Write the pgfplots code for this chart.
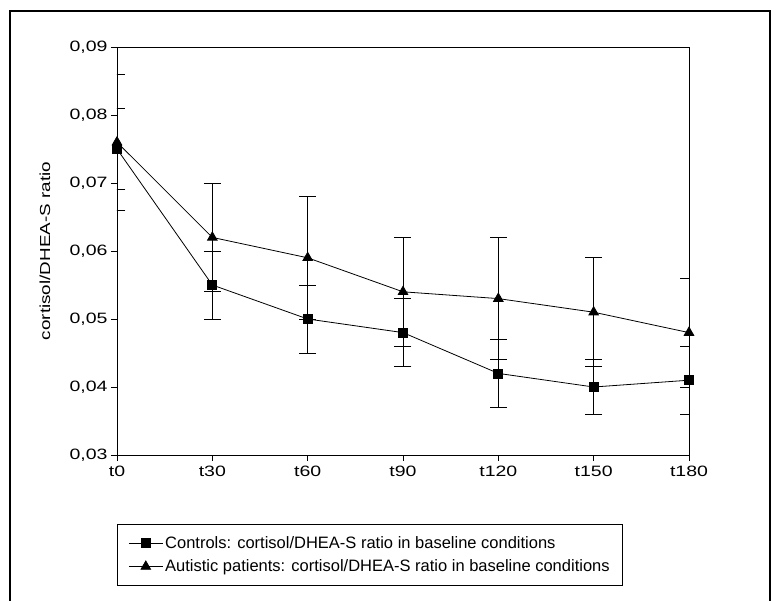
\documentclass[border=0pt]{standalone}
\usepackage{pgfplots}
\pgfplotsset{compat=1.18}
\usepackage{fontspec}
\setmainfont{Liberation Sans}
\newfontfamily\widefont[FakeStretch=1.3]{Liberation Sans}

\begin{document}
\begin{tikzpicture}
  % page = 781 x 601 px, axis box south west corner at (0,0)
  \useasboundingbox (-117bp,-146bp) rectangle (664bp,455bp);
  \draw[line width=1.4bp] (-107bp,-150bp) -- (-107bp,444bp) -- (653bp,444bp) -- (653bp,-150bp);
  \begin{axis}[
    scale only axis,
    width=572bp, height=408bp,
    at={(0,0)}, anchor=south west,
    xmin=0, xmax=6, ymin=0.03, ymax=0.09,
    xtick={0,...,6},
    xticklabels={t0,t30,t60,t90,t120,t150,t180},
    ytick={0.03,0.04,...,0.09},
    scaled y ticks=false,
    yticklabel style={/pgf/number format/.cd, use comma, fixed, fixed zerofill, precision=2, assume math mode=true},
    tick align=outside,
    tick pos=left,
    major tick length=6bp,
    tick style={black, line width=0.8bp},
    axis line style={line width=0.8bp},
    tick label style={font=\widefont\fontsize{15bp}{17bp}\selectfont},
    xticklabel style={yshift=-2bp},
    ylabel={cortisol/DHEA-S ratio},
    ylabel style={font=\widefont\fontsize{14.5bp}{16bp}\selectfont, at={(axis description cs:-0.126,0.5)}, anchor=center},
    legend style={at={(axis description cs:0,-0.169)}, anchor=north west,
      font=\fontsize{16.5bp}{18bp}\selectfont, draw=black, line width=0.8bp,
      inner xsep=11bp, inner ysep=10bp, row sep=6bp, cells={anchor=west}},
    legend image code/.code={
      \draw[black, line width=0.8bp] (0bp,0bp) -- (34bp,0bp);
      \draw[black, #1] plot coordinates {(17bp,0bp)};
    },
    error bars/error bar style={black, line width=0.8bp},
    error bars/error mark options={black, rotate=90, mark size=8.5bp, line width=0.8bp},
  ]
    \addplot[black, line width=0.8bp, mark=square*, mark size=4.5bp, mark options={solid, fill=black},
      error bars/.cd, y dir=both, y explicit]
      table[x=x, y=y, y error=e] {
        x y e
        0 0.075 0.006
        1 0.055 0.005
        2 0.050 0.005
        3 0.048 0.005
        4 0.042 0.005
        5 0.040 0.004
        6 0.041 0.005
      };
    \addlegendentry{Controls: cortisol/DHEA-S ratio in baseline conditions}
    \addplot[black, line width=0.8bp, mark=triangle*, mark size=5.5bp, mark options={solid, fill=black},
      error bars/.cd, y dir=both, y explicit]
      table[x=x, y=y, y error=e] {
        x y e
        0 0.076 0.010
        1 0.062 0.008
        2 0.059 0.009
        3 0.054 0.008
        4 0.053 0.009
        5 0.051 0.008
        6 0.048 0.008
      };
    \addlegendentry{Autistic patients: cortisol/DHEA-S ratio in baseline conditions}
  \end{axis}
\end{tikzpicture}
\end{document}
